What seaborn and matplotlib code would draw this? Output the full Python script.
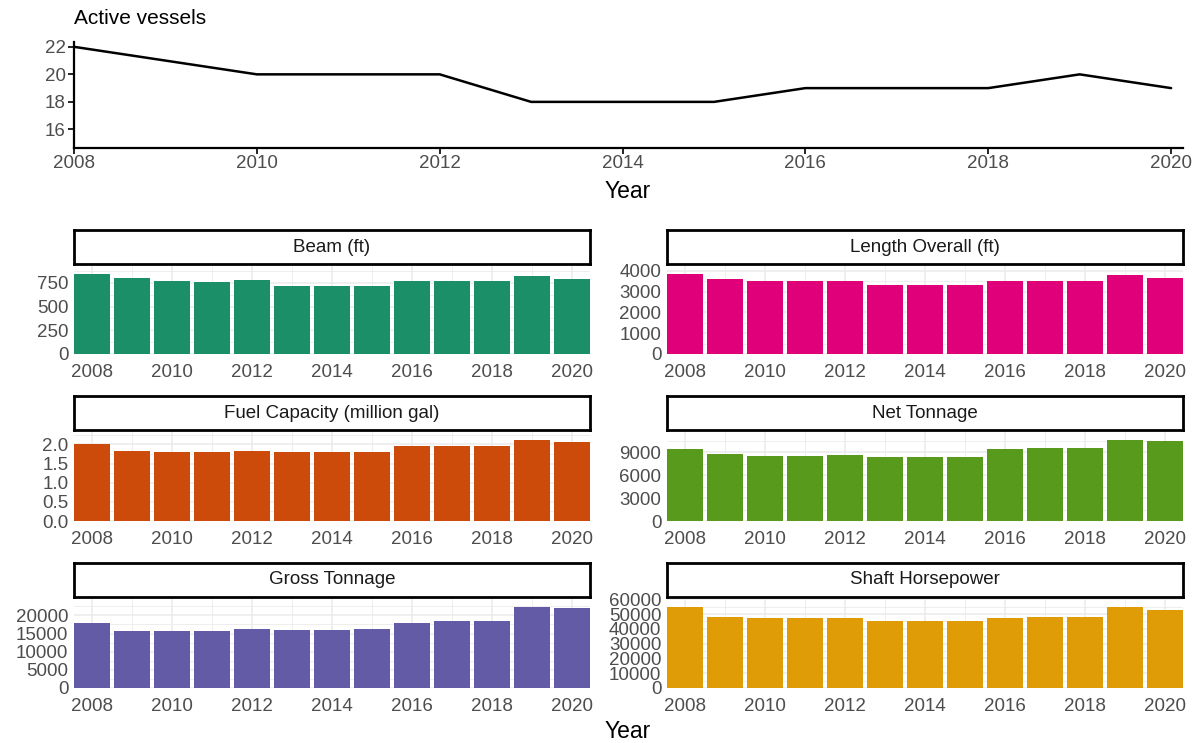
import numpy as np
import pandas as pd
import matplotlib
matplotlib.use("Agg")
import matplotlib.pyplot as plt
from matplotlib.ticker import FixedLocator, MultipleLocator
import seaborn as sns

# ---- data -------------------------------------------------------------
years = [2008, 2009, 2010, 2011, 2012, 2013, 2014, 2015, 2016, 2017, 2018, 2019, 2020]
active_vessels = [22, 21, 20, 20, 20, 18, 18, 18, 19, 19, 19, 20, 19]

beam_ft = [844, 802, 774, 764, 777, 719, 719, 719, 767, 774, 774, 826, 795]
length_overall_ft = [3843, 3620, 3492, 3525, 3525, 3303, 3303, 3303, 3525, 3525, 3525, 3796, 3668]
fuel_capacity_mgal = [2.01, 1.825, 1.79, 1.79, 1.825, 1.79, 1.79, 1.79, 1.947, 1.964, 1.947, 2.112, 2.06]
net_tonnage = [9472, 8738, 8555, 8555, 8686, 8424, 8424, 8384, 9393, 9563, 9563, 10611, 10480]
gross_tonnage = [17880, 15770, 15590, 15590, 16150, 15870, 15870, 16330, 17880, 18520, 18520, 22280, 22100]
shaft_horsepower = [54600, 48150, 47480, 47480, 47480, 45000, 45000, 45000, 47480, 47900, 47900, 54700, 53060]

panel_titles = ["Beam (ft)", "Length Overall (ft)", "Fuel Capacity (million gal)",
                "Net Tonnage", "Gross Tonnage", "Shaft Horsepower"]
panel_values = [beam_ft, length_overall_ft, fuel_capacity_mgal,
                net_tonnage, gross_tonnage, shaft_horsepower]
panel_colors = ["#1B8F68", "#E0007A", "#CC4A0A", "#579A1C", "#635BA5", "#E09C07"]
panel_yticks = [
    [0, 250, 500, 750],
    [0, 1000, 2000, 3000, 4000],
    [0.0, 0.5, 1.0, 1.5, 2.0],
    [0, 3000, 6000, 9000],
    [0, 5000, 10000, 15000, 20000],
    [0, 10000, 20000, 30000, 40000, 50000, 60000],
]
panel_ytick_labels = [
    ["0", "250", "500", "750"],
    ["0", "1000", "2000", "3000", "4000"],
    ["0.0", "0.5", "1.0", "1.5", "2.0"],
    ["0", "3000", "6000", "9000"],
    ["0", "5000", "10000", "15000", "20000"],
    ["0", "10000", "20000", "30000", "40000", "50000", "60000"],
]
year_ticks = [2008, 2010, 2012, 2014, 2016, 2018, 2020]

# ---- styling ------------------------------------------------------------
sns.set_theme(style="white")
plt.rcParams["font.family"] = ["Liberation Sans", "DejaVu Sans"]

W, H = 1198, 743
fig = plt.figure(figsize=(W / 100, H / 100), dpi=100)
fig.patch.set_facecolor("white")


def box(x0, y0, x1, y1):
    """Pixel box (top-left origin) -> figure fraction rect."""
    return [x0 / W, 1 - y1 / H, (x1 - x0) / W, (y1 - y0) / H]


TICK_COLOR = "#4D4D4D"
TICK_SIZE = 13.5

# ---- top: active vessels line --------------------------------------------
ax_top = fig.add_axes(box(74, 42, 1183, 148))
line_df = pd.DataFrame({"Year": years, "Active": active_vessels})
sns.lineplot(data=line_df, x="Year", y="Active", color="black", linewidth=1.8, ax=ax_top)
ax_top.set_xlim(2008, 2020.13)
ax_top.set_ylim(14.65, 22.35)
ax_top.set_xticks(year_ticks)
ax_top.set_xticklabels([str(y) for y in year_ticks])
ax_top.set_yticks([16, 18, 20, 22])
for side in ["top", "right"]:
    ax_top.spines[side].set_visible(False)
for side in ["left", "bottom"]:
    ax_top.spines[side].set_color("black")
    ax_top.spines[side].set_linewidth(1.6)
ax_top.tick_params(axis="both", which="major", length=4, width=1.2, color="black",
                   labelsize=TICK_SIZE, labelcolor=TICK_COLOR, direction="out", pad=2,
                   bottom=True, left=True)
ax_top.tick_params(axis="x", pad=1)
ax_top.set_xlabel("")
ax_top.set_ylabel("")
ax_top.grid(False)
fig.text(74 / W, 1 - 19 / H, "Active vessels", fontsize=15, color="black",
         ha="left", va="center")
fig.text(628 / W, 1 - 191 / H, "Year", fontsize=16.5, color="black",
         ha="center", va="center")

# ---- facet grid of bar panels --------------------------------------------
col_x = [(74, 590), (667, 1183)]
row_y = [(230, 264, 266, 354), (396, 430, 432, 521), (563, 597, 599, 688)]

for i, (title, vals, colr, yt, ytl) in enumerate(
        zip(panel_titles, panel_values, panel_colors, panel_yticks, panel_ytick_labels)):
    r, c = divmod(i, 2)
    x0, x1 = col_x[c]
    s0, s1, p0, p1 = row_y[r]

    # strip
    ax_s = fig.add_axes(box(x0, s0, x1, s1))
    ax_s.set_xticks([])
    ax_s.set_yticks([])
    ax_s.set_facecolor("white")
    for sp in ax_s.spines.values():
        sp.set_visible(True)
        sp.set_color("black")
        sp.set_linewidth(2.0)
    ax_s.text(0.5, 0.5, title, transform=ax_s.transAxes, ha="center", va="center",
              fontsize=13.5, color="#1A1A1A")

    # panel
    ax = fig.add_axes(box(x0, p0, x1, p1))
    bar_df = pd.DataFrame({"Year": years, "Value": vals})
    sns.barplot(data=bar_df, x="Year", y="Value", native_scale=True, color=colr,
                width=0.9, linewidth=0, saturation=1, ax=ax, zorder=3)
    ax.set_xlim(2007.55, 2020.45)
    ax.set_ylim(0, 1.1 * max(vals))
    ax.xaxis.set_major_locator(FixedLocator(year_ticks))
    ax.xaxis.set_minor_locator(MultipleLocator(1))
    ax.set_xticklabels([str(y) for y in year_ticks])
    ax.set_yticks(yt)
    ax.set_yticklabels(ytl)
    step = yt[1] - yt[0]
    minors = [v + step / 2 for v in yt]
    ax.yaxis.set_minor_locator(FixedLocator(minors))
    ax.set_axisbelow(True)
    ax.grid(True, which="major", color="#EBEBEB", linewidth=1.1, zorder=0)
    ax.grid(True, which="minor", color="#EBEBEB", linewidth=0.6, zorder=0)
    for sp in ax.spines.values():
        sp.set_visible(False)
    ax.tick_params(axis="both", which="both", length=0, labelsize=TICK_SIZE,
                   labelcolor=TICK_COLOR, pad=4)
    ax.tick_params(axis="x", pad=7)
    ax.set_xlabel("")
    ax.set_ylabel("")

fig.text(628 / W, 1 - 731 / H, "Year", fontsize=16.5, color="black",
         ha="center", va="center")

fig.savefig("out.png", dpi=100, facecolor="white")
